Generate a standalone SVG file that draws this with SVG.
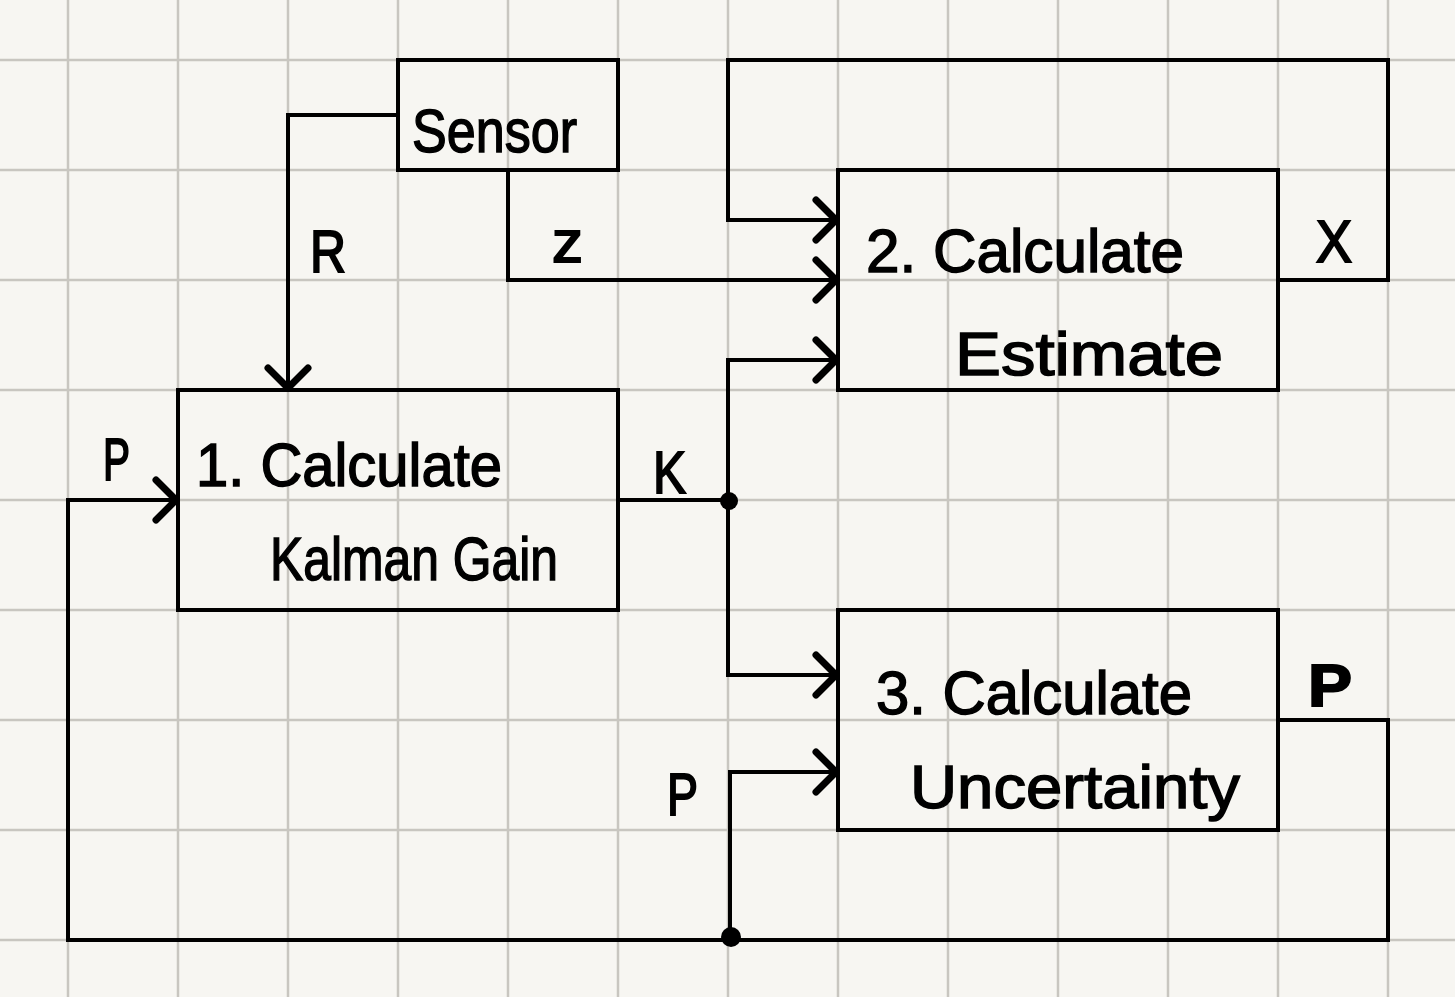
<svg xmlns="http://www.w3.org/2000/svg" width="1455" height="997" viewBox="0 0 1455 997">
<style>
.grid{stroke:#c8c6c0;stroke-width:2.5;fill:none}
.box{fill:none;stroke:#000;stroke-width:4}
.wire{fill:none;stroke:#000;stroke-width:4;stroke-linejoin:miter}
.head{fill:none;stroke:#000;stroke-width:7;stroke-linecap:round;stroke-linejoin:round}
.t{font-family:"Liberation Sans",Arial,sans-serif;font-size:62px;fill:#000;stroke:#000;stroke-width:1.5}
.lbl{font-family:"Liberation Sans",Arial,sans-serif;font-size:60px;fill:#000;stroke:#000;stroke-width:2}
</style>
<defs>
<path id="ah" class="head" d="M-20,-20 L0,0 L-20,20"/>
</defs>
<rect x="0" y="0" width="1455" height="997" fill="#f7f6f2"/>
<g id="grid">
<path class="grid" d="M68,0V997M178,0V997M288,0V997M398,0V997M508,0V997M618,0V997M728,0V997M838,0V997M948,0V997M1058,0V997M1168,0V997M1278,0V997M1388,0V997"/>
<path class="grid" d="M0,60H1455M0,170H1455M0,280H1455M0,390H1455M0,500H1455M0,610H1455M0,720H1455M0,830H1455M0,940H1455"/>
</g>
<g id="connectors">
<path class="wire" d="M398,115 H288 V388"/>
<use href="#ah" transform="translate(288,388) rotate(90)"/>
<path class="wire" d="M508,170 V280 H836"/>
<use href="#ah" transform="translate(836,280)"/>
<path class="wire" d="M1278,280 H1388 V60 H728 V220 H836"/>
<use href="#ah" transform="translate(836,220)"/>
<path class="wire" d="M618,500 H728 V360 H836"/>
<use href="#ah" transform="translate(836,360)"/>
<path class="wire" d="M728,500 V675 H836"/>
<use href="#ah" transform="translate(836,675)"/>
<path class="wire" d="M1278,720 H1388 V940 H68 V500 H176"/>
<use href="#ah" transform="translate(176,500)"/>
<path class="wire" d="M730,940 V772 H836"/>
<use href="#ah" transform="translate(836,772)"/>
<circle cx="729" cy="501" r="9" fill="#000"/>
<circle cx="731" cy="937" r="10" fill="#000"/>
<text class="lbl" x="310" y="272" textLength="36" lengthAdjust="spacingAndGlyphs">R</text>
<text class="lbl" x="552" y="262" textLength="31" lengthAdjust="spacingAndGlyphs">z</text>
<text class="lbl" x="1316" y="262" textLength="36" lengthAdjust="spacingAndGlyphs">X</text>
<text class="lbl" x="653" y="493" textLength="33" lengthAdjust="spacingAndGlyphs">K</text>
<text class="lbl" x="103" y="480" textLength="27" lengthAdjust="spacingAndGlyphs">P</text>
<text class="lbl" x="667" y="815" textLength="31" lengthAdjust="spacingAndGlyphs">P</text>
<text class="lbl" x="1308" y="706" font-weight="bold" font-size="66" textLength="44" lengthAdjust="spacingAndGlyphs">P</text>
</g>
<g id="sensor">
<rect class="box" x="398" y="60" width="220" height="110"/>
<text class="t" x="412" y="152" font-size="76" textLength="165" lengthAdjust="spacingAndGlyphs">Sensor</text>
</g>
<g id="gain">
<rect class="box" x="178" y="390" width="440" height="220"/>
<text class="t" x="196" y="486" font-size="66" textLength="306" lengthAdjust="spacingAndGlyphs">1. Calculate</text>
<text class="t" x="270" y="580" font-size="70" textLength="288" lengthAdjust="spacingAndGlyphs">Kalman Gain</text>
</g>
<g id="estimate">
<rect class="box" x="838" y="170" width="440" height="220"/>
<text class="t" x="866" y="272" font-size="66" textLength="318" lengthAdjust="spacingAndGlyphs">2. Calculate</text>
<text class="t" x="955" y="375" font-size="66" textLength="268" lengthAdjust="spacingAndGlyphs">Estimate</text>
</g>
<g id="uncertainty">
<rect class="box" x="838" y="610" width="440" height="220"/>
<text class="t" x="876" y="714" font-size="66" textLength="316" lengthAdjust="spacingAndGlyphs">3. Calculate</text>
<text class="t" x="910" y="808" font-size="66" textLength="330" lengthAdjust="spacingAndGlyphs">Uncertainty</text>
</g>
</svg>
